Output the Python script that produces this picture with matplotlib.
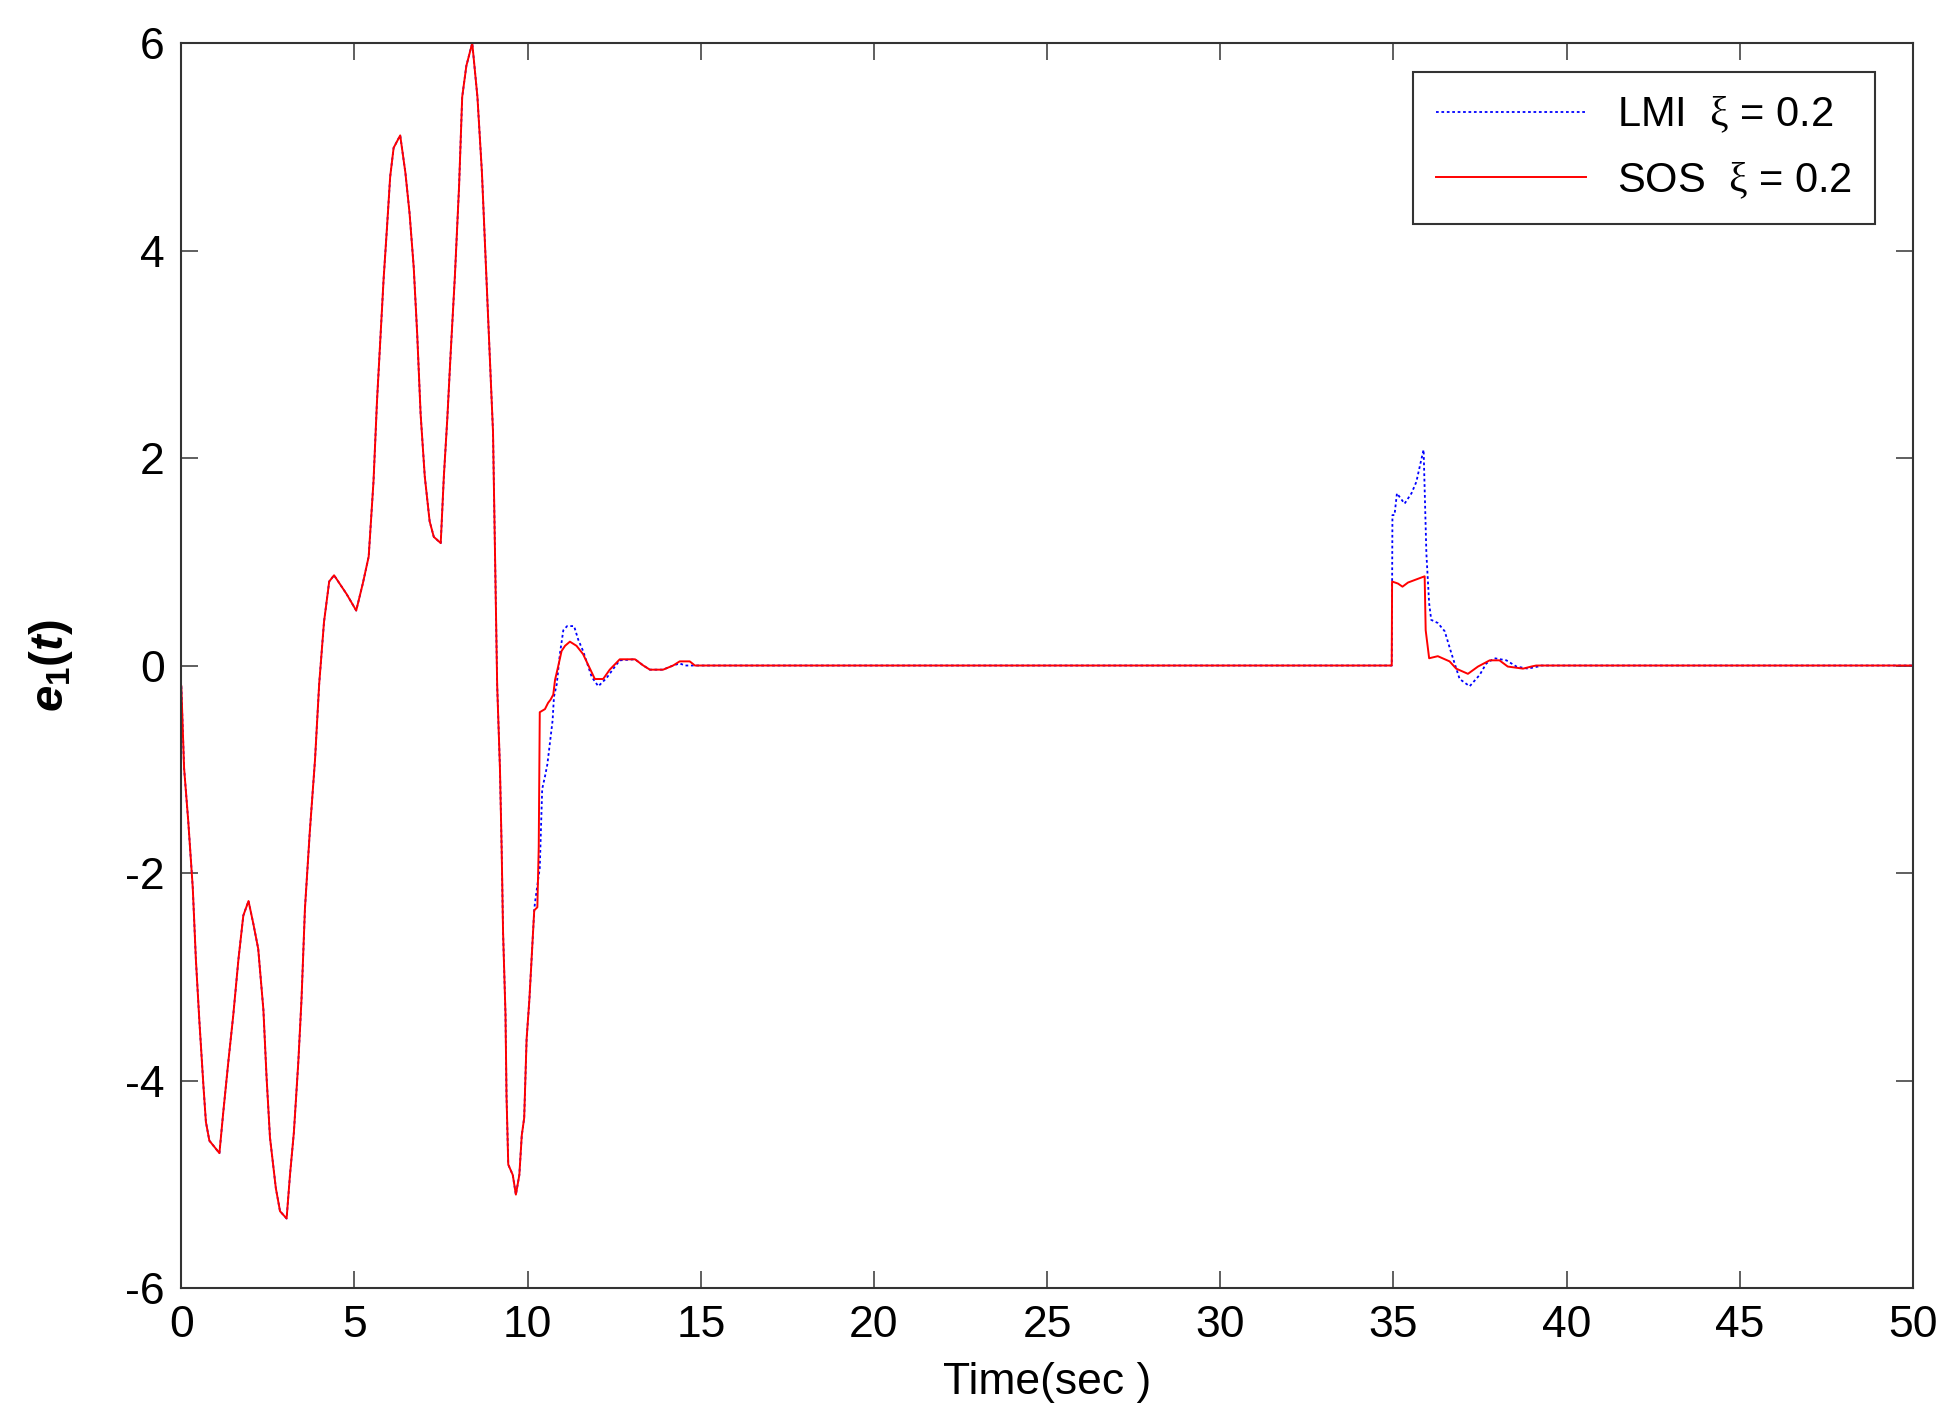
import numpy as np
import matplotlib
matplotlib.use("Agg")
from matplotlib import pyplot as plt

plt.rcParams['font.family'] = ['Liberation Sans', 'DejaVu Sans']
plt.rcParams['axes.unicode_minus'] = False
plt.rcParams['mathtext.fontset'] = 'custom'
plt.rcParams['mathtext.rm'] = 'Liberation Serif'
plt.rcParams['mathtext.it'] = 'Liberation Sans:italic:bold'
plt.rcParams['mathtext.bf'] = 'Liberation Sans:bold'

# Part shared by both controllers (curves overlap up to ~10.2 s)
t_common = [0, 0.08, 0.20, 0.33, 0.42, 0.52, 0.64, 0.71, 0.81, 1.10, 1.21, 1.36, 1.50,
            1.65, 1.79, 1.94, 2.08, 2.22, 2.37, 2.46, 2.56, 2.73, 2.85, 3.04, 3.14, 3.25,
            3.38, 3.47, 3.57, 3.71, 3.86, 3.98, 4.12, 4.27, 4.41, 4.77, 5.05, 5.24, 5.41,
            5.55, 5.65, 5.74, 5.84, 5.94, 6.03, 6.13, 6.32, 6.47, 6.59, 6.71, 6.81, 6.91,
            7.03, 7.17, 7.29, 7.49, 7.58, 7.68, 7.78, 7.90, 8.02, 8.11, 8.23, 8.40, 8.55,
            8.68, 8.79, 8.89, 9.00, 9.06, 9.12, 9.20, 9.25, 9.29, 9.36, 9.39, 9.44, 9.57,
            9.66, 9.76, 9.83, 9.90, 9.97, 10.05, 10.11, 10.19]
e_common = [-0.20, -0.99, -1.50, -2.14, -2.83, -3.42, -4.06, -4.40, -4.58, -4.70, -4.31,
            -3.81, -3.37, -2.83, -2.41, -2.27, -2.49, -2.73, -3.32, -3.96, -4.55, -5.04,
            -5.26, -5.33, -4.90, -4.50, -3.81, -3.22, -2.34, -1.60, -0.91, -0.18, 0.42,
            0.81, 0.87, 0.69, 0.53, 0.79, 1.05, 1.78, 2.55, 3.11, 3.72, 4.23, 4.71, 4.99,
            5.11, 4.75, 4.36, 3.84, 3.20, 2.42, 1.82, 1.39, 1.24, 1.18, 1.82, 2.38, 3.03,
            3.76, 4.62, 5.48, 5.78, 6.00, 5.48, 4.75, 3.89, 3.11, 2.25, 1.05, -0.19, -0.99,
            -1.78, -2.57, -3.36, -4.15, -4.81, -4.91, -5.10, -4.91, -4.53, -4.36, -3.60,
            -3.22, -2.85, -2.36]

# LMI tail
t_lmi_tail = [10.21, 10.35, 10.42, 10.50, 10.57, 10.64, 10.72, 10.76, 10.84, 10.93, 11.03,
              11.14, 11.34, 11.46, 11.60, 11.85, 12.04, 12.28, 12.52, 12.66, 13.10, 13.34,
              13.53, 13.91, 14.20, 14.39, 14.55, 34.95, 34.97, 35.03, 35.10, 35.32, 35.52,
              35.66, 35.80, 35.87, 35.95, 36.03, 36.09, 36.28, 36.48, 36.67, 36.91, 37.20,
              37.49, 37.68, 37.92, 38.26, 38.55, 38.88, 39.17, 39.25, 50.0]
e_lmi_tail = [-2.29, -1.95, -1.19, -1.07, -0.95, -0.75, -0.53, -0.30, -0.18, 0.11, 0.34,
              0.38, 0.38, 0.25, 0.14, -0.11, -0.20, -0.12, -0.01, 0.05, 0.06, 0.00,
              -0.04, -0.04, 0.00, 0.02, 0.00, 0.00, 1.45, 1.45, 1.66, 1.56, 1.66,
              1.77, 1.98, 2.08, 1.08, 0.60, 0.44, 0.41, 0.33, 0.12, -0.13, -0.20,
              -0.09, 0.02, 0.07, 0.05, -0.01, -0.03, -0.01, 0.00, 0.00]

# SOS tail
t_sos_tail = [10.28, 10.32, 10.35, 10.50, 10.59, 10.66, 10.74, 10.79, 10.88, 10.98, 11.08,
              11.22, 11.41, 11.60, 11.80, 11.94, 12.18, 12.37, 12.66, 13.10, 13.34, 13.53,
              13.91, 14.20, 14.39, 14.68, 14.83, 34.95, 34.96, 35.13, 35.26, 35.42, 35.66,
              35.90, 35.93, 36.03, 36.28, 36.62, 36.81, 37.15, 37.44, 37.78, 38.06, 38.30,
              38.74, 38.98, 39.12, 50.0]
e_sos_tail = [-2.33, -1.75, -0.45, -0.42, -0.36, -0.33, -0.28, -0.14, -0.01, 0.14, 0.19,
              0.23, 0.19, 0.11, -0.03, -0.13, -0.13, -0.04, 0.06, 0.06, 0.00, -0.04,
              -0.04, 0.00, 0.04, 0.04, 0.00, 0.00, 0.81, 0.79, 0.76, 0.80, 0.83,
              0.86, 0.34, 0.07, 0.09, 0.04, -0.03, -0.08, -0.01, 0.05, 0.05, -0.01,
              -0.03, -0.01, 0.00, 0.00]

t_lmi = t_common + t_lmi_tail
e_lmi = e_common + e_lmi_tail
t_sos = t_common + t_sos_tail
e_sos = e_common + e_sos_tail

fig = plt.figure(figsize=(19.56, 14.16), dpi=100)
ax = fig.add_axes([0.0927, 0.0904, 0.8853, 0.8792])

ax.plot(t_lmi, e_lmi, color='#0000ff', lw=1.3, linestyle=(0, (1.5, 1.5)),
        label=r'LMI  $\mathrm{\xi}$ = 0.2')
ax.plot(t_sos, e_sos, color='#ff0000', lw=1.4, label=r'SOS  $\mathrm{\xi}$ = 0.2')

ax.set_xlim(0, 50)
ax.set_ylim(-6, 6)
ax.set_xticks(np.arange(0, 51, 5))
ax.set_yticks(np.arange(-6, 7, 2))
ax.tick_params(direction='in', top=True, right=True, length=12, width=1.2,
               labelsize=32, pad=12, color='#444444')
for s in ax.spines.values():
    s.set_color('#333333')
    s.set_linewidth(1.5)

ax.set_xlabel('Time(sec )', fontsize=32, labelpad=12)
ax.set_ylabel(r'$e_{\mathbf{1}}\mathbf{(}t\mathbf{)}$', fontsize=34, labelpad=36)

leg = ax.legend(loc='upper right', bbox_to_anchor=(0.978, 0.977), borderaxespad=0,
                fontsize=30, frameon=True, fancybox=False, edgecolor='black',
                handlelength=3.6, handletextpad=0.75, borderpad=0.55, labelspacing=0.6)
leg.get_frame().set_linewidth(1.5)

plt.savefig('out.png', dpi=100)
